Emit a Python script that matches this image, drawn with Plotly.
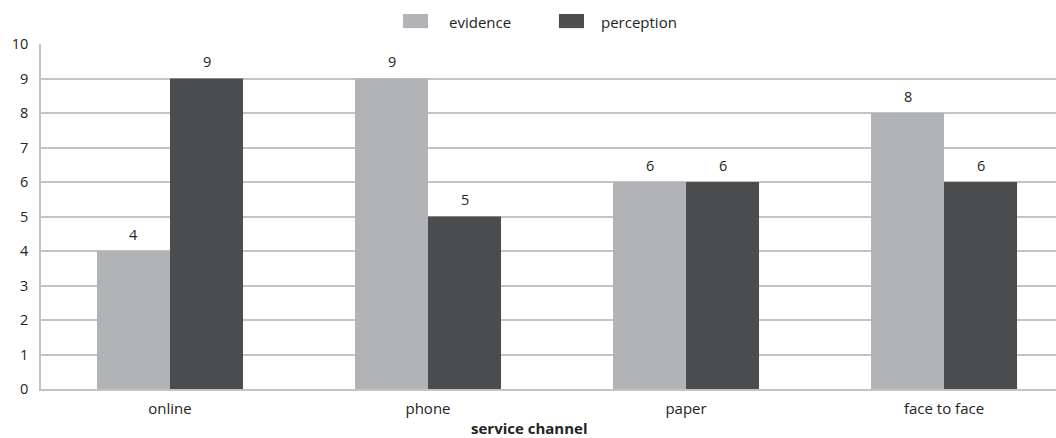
import plotly.graph_objects as go

categories = ["online", "phone", "paper", "face to face"]
evidence = [4, 9, 6, 8]
perception = [9, 5, 6, 6]
series_names = ["evidence", "perception"]
y_ticks = list(range(0, 11))
x_title = "service channel"

EVID_COLOR = "#b2b3b6"
PERC_COLOR = "#4b4c4e"
TEXT_COLOR = "#232323"
GRID_COLOR = "#c3c3c3"
FONT = "Open Sans"

fig = go.Figure()
for name, vals, col in [(series_names[0], evidence, EVID_COLOR),
                        (series_names[1], perception, PERC_COLOR)]:
    fig.add_trace(go.Bar(x=categories, y=vals, name=name, marker_color=col,
                         marker_line_width=0, showlegend=False))

# value labels above each bar
annotations = []
for vals, shift in [(evidence, -36.5), (perception, 36.5)]:
    for c, v in zip(categories, vals):
        annotations.append(dict(x=c, y=v, xref="x", yref="y", text=str(v),
                                showarrow=False, xshift=shift, yshift=17,
                                font=dict(family=FONT, size=14.5, color=TEXT_COLOR)))

# legend drawn as swatches + labels across the top
shapes = []
legend_items = [(series_names[0], EVID_COLOR, 0.3567, 0.3813, 0.400),
                (series_names[1], PERC_COLOR, 0.5103, 0.5350, 0.5498)]
for name, col, x0, x1, tx in legend_items:
    shapes.append(dict(type="rect", xref="paper", yref="paper", x0=x0, x1=x1,
                       y0=1.046, y1=1.087, fillcolor=col, line_width=0))
    annotations.append(dict(x=tx, y=1.064, xref="paper", yref="paper", text=name,
                            showarrow=False, xanchor="left", yanchor="middle",
                            font=dict(family=FONT, size=15, color=TEXT_COLOR)))

# x-axis title, centred on the page width
annotations.append(dict(x=0.481, y=-0.113, xref="paper", yref="paper",
                        text="<b>" + x_title + "</b>", showarrow=False,
                        xanchor="center", yanchor="middle",
                        font=dict(family=FONT, size=15, color=TEXT_COLOR)))

fig.update_layout(
    width=1056, height=438,
    margin=dict(l=41, r=0, t=44, b=49),
    paper_bgcolor="white", plot_bgcolor="white",
    barmode="group", bargap=0.434, bargroupgap=0,
    font=dict(family=FONT, size=15, color=TEXT_COLOR),
    shapes=shapes, annotations=annotations,
    xaxis=dict(range=[-0.5, 3.434], showline=True, linecolor=GRID_COLOR, linewidth=1.5,
               ticks="", ticklabelstandoff=5, tickfont=dict(size=15, color=TEXT_COLOR)),
    yaxis=dict(range=[0, 10], tickvals=y_ticks, showgrid=True, gridcolor=GRID_COLOR,
               gridwidth=1.5, showline=True, linecolor=GRID_COLOR, linewidth=1.5,
               zeroline=False, ticks="", ticklabelstandoff=8,
               tickfont=dict(size=14.5, color=TEXT_COLOR)),
)

fig.write_html("out.html")
